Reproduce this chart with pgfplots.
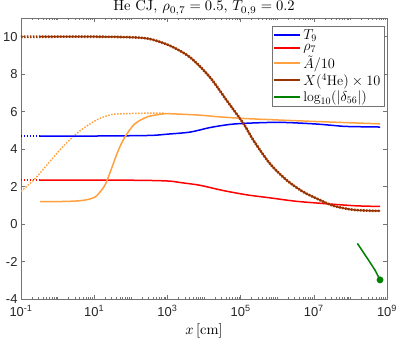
\documentclass[border=0pt]{standalone}
\usepackage{fontspec}
\usepackage{pgfplots}
\pgfplotsset{compat=1.18}
\newfontfamily\tickfont{Liberation Sans}
\definecolor{colT}{rgb}{0,0,1}
\definecolor{colR}{rgb}{1,0,0}
\definecolor{colA}{rgb}{1,0.63,0.25}
\definecolor{colX}{rgb}{0.6,0.2,0}
\definecolor{colD}{rgb}{0,0.5,0}
\begin{document}
\begin{tikzpicture}
\useasboundingbox (0,0) rectangle (399bp,345bp);
\begin{axis}[
  at={(21bp,46bp)}, anchor=south west,
  scale only axis, width=366bp, height=281bp,
  xmode=log, xmin=0.1, xmax=1e9, ymin=-4, ymax=11,
  xtick={0.1,10,1000,1e5,1e7,1e9},
  xticklabels={10\textsuperscript{-1},10\textsuperscript{1},10\textsuperscript{3},10\textsuperscript{5},10\textsuperscript{7},10\textsuperscript{9}},
  minor xtick={0.2,0.3,0.4,0.5,0.6,0.7,0.8,0.9,1,2,3,4,5,6,7,8,9,20,30,40,50,60,70,80,90,100,200,300,400,500,600,700,800,900,2000,3000,4000,5000,6000,7000,8000,9000,1e4,2e4,3e4,4e4,5e4,6e4,7e4,8e4,9e4,2e5,3e5,4e5,5e5,6e5,7e5,8e5,9e5,1e6,2e6,3e6,4e6,5e6,6e6,7e6,8e6,9e6,2e7,3e7,4e7,5e7,6e7,7e7,8e7,9e7,1e8,2e8,3e8,4e8,5e8,6e8,7e8,8e8,9e8},
  ytick={-4,-2,0,2,4,6,8,10},
  yticklabels={-4,-2,0,2,4,6,8,10},
  ticklabel style={font=\tickfont\fontsize{13}{13}\selectfont, text=black!85},
  xticklabel style={yshift=-3bp},
  tick align=inside,
  major tick length=4bp, minor tick length=2.2bp,
  axis line style={black!55, line width=0.5bp},
  every tick/.style={black!55, line width=0.5bp},
  legend cell align=left,
  legend style={at={(0.992,0.9715)}, anchor=north east, draw=black!55, line width=0.5bp,
    font=\fontsize{14}{15}\selectfont, inner sep=1.5bp, row sep=-0.5bp},
  legend image code/.code={\draw[#1, line width=2bp] (0bp,0bp) -- (26bp,0bp);},
]
% dotted (second model) parts
\addplot[colX, dash pattern=on 1.5bp off 1.5bp, line width=2.6bp, forget plot, smooth] coordinates {
(0.1,10.0)(10,10.0)(100,9.97)(331.1,9.88)(1175,9.52)(4169,8.90)(14450,7.84)(41690,6.60)(120200,5.36)(223900,4.47)(631000,3.23)(1.820e6,2.34)(5.129e6,1.72)(1.479e7,1.28)(3.388e7,0.98)(1e8,0.78)(2.512e8,0.72)(6.457e8,0.70)};
\addplot[colT, dash pattern=on 1.5bp off 1.5bp, line width=1.5bp, forget plot] coordinates {(0.1,4.70)(0.331,4.70)};
\addplot[colR, dash pattern=on 1.5bp off 1.5bp, line width=1.5bp, forget plot] coordinates {(0.1,2.34)(0.331,2.34)};
\addplot[colA, dash pattern=on 1.5bp off 1.5bp, line width=1.5bp, forget plot, smooth] coordinates {
(0.1,1.75)(0.2399,2.42)(0.562,3.25)(1.585,4.25)(4.571,5.05)(12.88,5.60)(31.62,5.85)(100,5.90)(316.2,5.92)(851.1,5.92)};
% solid curves
\addplot[colT, line width=1.5bp, smooth, forget plot] coordinates {
(0.331,4.70)(10,4.70)(316.2,4.73)(1000,4.80)(4169,4.91)(14450,5.15)(51290,5.32)(182000,5.39)(1.202e6,5.43)(9.772e6,5.35)(3.162e7,5.27)(7.943e7,5.21)(6.457e8,5.18)};
\addplot[colR, line width=1.5bp, smooth, forget plot] coordinates {
(0.331,2.34)(100,2.34)(1000,2.30)(2188,2.22)(7762,2.07)(31620,1.80)(147900,1.56)(631000,1.40)(3.162e6,1.22)(1.479e7,1.11)(5.248e7,1.03)(1.585e8,0.97)(6.457e8,0.94)};
\addplot[colA, line width=1.5bp, smooth, forget plot] coordinates {
(0.331,1.20)(1,1.20)(3.162,1.23)(6.31,1.30)(10,1.42)(12.88,1.60)(19.95,2.10)(30.2,3.00)(45.71,3.94)(69.18,4.65)(128.8,5.35)(302,5.74)(851.1,5.89)(1175,5.89)(6918,5.82)(27540,5.72)(182000,5.62)(9.772e6,5.48)(6.457e8,5.35)};
\addplot[colX, line width=1.5bp, smooth, forget plot] coordinates {
(0.331,10.0)(10,10.0)(100,9.97)(331.1,9.88)(1175,9.52)(4169,8.90)(14450,7.84)(41690,6.60)(120200,5.36)(223900,4.47)(631000,3.23)(1.820e6,2.34)(5.129e6,1.72)(1.479e7,1.28)(3.388e7,0.98)(1e8,0.78)(2.512e8,0.72)(6.457e8,0.70)};
\addplot[colD, line width=1.5bp, forget plot] coordinates {
(1.549e8,-1.03)(3.09e8,-1.91)(4.677e8,-2.45)(6.457e8,-2.98)};
\addplot[colD, only marks, mark=*, mark size=3.2bp, forget plot] coordinates {(6.457e8,-2.98)};
% legend
\addlegendimage{draw=colT, color=colT}
\addlegendentry{$T_9$}
\addlegendimage{draw=colR, color=colR}
\addlegendentry{$\rho_7$}
\addlegendimage{draw=colA, color=colA}
\addlegendentry{$\tilde{A}/10$}
\addlegendimage{draw=colX, color=colX}
\addlegendentry{$X(^4\mathrm{He})\times 10$}
\addlegendimage{draw=colD, color=colD}
\addlegendentry{$\log_{10}(|\delta_{56}|)$}
\end{axis}
\node[anchor=base] at (204bp,334bp) {\scalebox{1.46}{He CJ, $\rho_{0,7}=0.5$, $T_{0,9}=0.2$}};
\node[anchor=base] at (204bp,11bp) {\scalebox{1.45}{$x\,$[cm]}};
\end{tikzpicture}
\end{document}
